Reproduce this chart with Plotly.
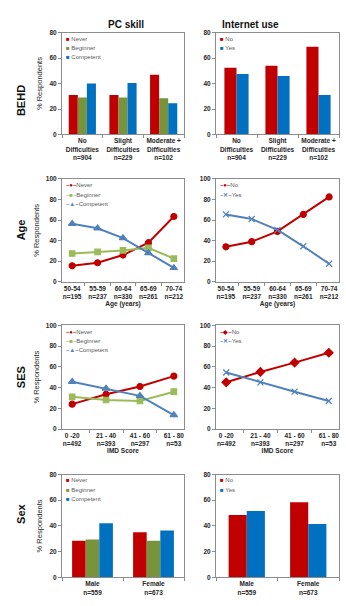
import plotly.graph_objects as go

W, H = 346, 606

# ---------------- data ----------------
behd_cats = ["No<br>Difficulties<br>n=904", "Slight<br>Difficulties<br>n=229", "Moderate +<br>Difficulties<br>n=102"]
behd_never = [31, 31, 47]
behd_beginner = [29, 29, 28.5]
behd_competent = [40, 40.5, 24.5]
behd_no = [52.5, 54, 69]
behd_yes = [47.5, 46, 31]

age_cats = ["50-54<br>n=195", "55-59<br>n=237", "60-64<br>n=330", "65-69<br>n=261", "70-74<br>n=212"]
age_never = [15.5, 18.5, 26, 38, 63.5]
age_beginner = [27.5, 29, 30.5, 33, 22.5]
age_competent = [56.5, 52, 42.5, 28, 13.5]
age_no = [34, 39, 49, 65.5, 82.5]
age_yes = [65.5, 61, 50.5, 34.5, 17.5]

ses_cats = ["0 -20<br>n=492", "21 - 40<br>n=393", "41 - 60<br>n=297", "61 - 80<br>n=53"]
ses_never = [24, 33.5, 41, 51]
ses_beginner = [31, 28, 27, 36]
ses_competent = [45.5, 39, 32, 13.5]
ses_no = [45, 55, 64, 73.5]
ses_yes = [54.5, 45, 36, 27]

sex_cats = ["Male<br>n=559", "Female<br>n=673"]
sex_never = [28.5, 35]
sex_beginner = [29.5, 28.5]
sex_competent = [42, 36.5]
sex_no = [48.5, 58.5]
sex_yes = [51.5, 41.5]

col_titles = ["PC skill", "Internet use"]
row_titles = ["BEHD", "Age", "SES", "Sex"]

# ---------------- styling ----------------
FONT = "Liberation Sans, Arial, sans-serif"
RED_BAR, GREEN_BAR, BLUE_BAR = "#C00000", "#77933C", "#0070C0"
RED_LINE, GREEN_LINE, BLUE_LINE = "#C00000", "#9BBB59", "#4F81BD"
AXCOL = "#8c8c8c"
TXT = "#262626"
LEGTXT = "#595959"

col_px = [(62, 184), (216, 339)]
row_px = [(29, 132), (177, 281), (325, 430), (476, 580)]

fig = go.Figure()
annotations = []


def ax_id(r, c):
    return r * 2 + c + 1


def add_bars(r, c, cats, names, series, colors):
    i = ax_id(r, c)
    n = len(series)
    w = 0.223 if n == 3 else 0.295
    start = -w * n / 2
    for k, (name, vals, color) in enumerate(zip(names, series, colors)):
        fig.add_trace(go.Bar(x=cats, y=vals, name=name, width=w, offset=start + k * w,
                             marker=dict(color=color, line=dict(width=0)),
                             xaxis=f"x{i}", yaxis=f"y{i}", showlegend=False))
    x0 = col_px[c][0]
    y0 = row_px[r][0]
    for k, (name, color) in enumerate(zip(names, colors)):
        yy = y0 + 6 + k * 9.2
        annotations.append(dict(text=f"<span style='color:{color}'>■</span> {name}",
                                x=(x0 + 2) / W, y=1 - yy / H, xref="paper", yref="paper",
                                xanchor="left", yanchor="middle", showarrow=False,
                                font=dict(size=6, color=LEGTXT, family=FONT)))


def add_lines(r, c, cats, names, series, colors, symbols, glyphs, sizes):
    i = ax_id(r, c)
    for name, vals, color, sym, sz in zip(names, series, colors, symbols, sizes):
        fig.add_trace(go.Scatter(x=cats, y=vals, name=name, mode="lines+markers",
                                 line=dict(color=color, width=2),
                                 marker=dict(symbol=sym, size=sz, color=color,
                                             line=dict(color=color, width=1.2)),
                                 xaxis=f"x{i}", yaxis=f"y{i}", showlegend=False))
    x0 = col_px[c][0]
    y0 = row_px[r][0]
    for k, (name, color, g) in enumerate(zip(names, colors, glyphs)):
        yy = y0 + 6.5 + k * 9.4
        annotations.append(dict(text=f"<span style='color:{color}'><b>–{g}–</b></span>{name}",
                                x=(x0 + 2) / W, y=1 - yy / H, xref="paper", yref="paper",
                                xanchor="left", yanchor="middle", showarrow=False,
                                font=dict(size=6, color=LEGTXT, family=FONT)))


pc_names = ["Never", "Beginner", "Competent"]
net_names = ["No", "Yes"]

# row 0 BEHD
add_bars(0, 0, behd_cats, pc_names, [behd_never, behd_beginner, behd_competent], [RED_BAR, GREEN_BAR, BLUE_BAR])
add_bars(0, 1, behd_cats, net_names, [behd_no, behd_yes], [RED_BAR, BLUE_BAR])
# row 1 Age
add_lines(1, 0, age_cats, pc_names, [age_never, age_beginner, age_competent],
          [RED_LINE, GREEN_LINE, BLUE_LINE], ["circle", "square", "triangle-up"], ["●", "■", "▲"], [6, 5.5, 6.5])
add_lines(1, 1, age_cats, net_names, [age_no, age_yes],
          [RED_LINE, BLUE_LINE], ["circle", "x-thin-open"], ["●", "✕"], [6, 6])
# row 2 SES
add_lines(2, 0, ses_cats, pc_names, [ses_never, ses_beginner, ses_competent],
          [RED_LINE, GREEN_LINE, BLUE_LINE], ["circle", "square", "triangle-up"], ["●", "■", "▲"], [6, 5.5, 6.5])
add_lines(2, 1, ses_cats, net_names, [ses_no, ses_yes],
          [RED_LINE, BLUE_LINE], ["diamond", "x-thin-open"], ["◆", "✕"], [6.5, 6])
# row 3 Sex
add_bars(3, 0, sex_cats, pc_names, [sex_never, sex_beginner, sex_competent], [RED_BAR, GREEN_BAR, BLUE_BAR])
add_bars(3, 1, sex_cats, net_names, [sex_no, sex_yes], [RED_BAR, BLUE_BAR])

yranges = [80, 100, 100, 80]
xtitles = [None, "Age (years)", "IMD Score", None]

layout = dict(width=W, height=H, margin=dict(l=0, r=0, t=0, b=0),
              paper_bgcolor="white", plot_bgcolor="white",
              font=dict(family=FONT, color=TXT, size=7),
              barmode="overlay", showlegend=False)

for r in range(4):
    y0, y1 = row_px[r]
    for c in range(2):
        i = ax_id(r, c)
        x0, x1 = col_px[c]
        xa = dict(domain=[x0 / W, x1 / W], anchor=f"y{i}", type="category",
                  showline=True, linecolor=AXCOL, linewidth=1, mirror=True,
                  ticks="outside", ticklen=3, tickcolor=AXCOL, tickson="boundaries",
                  tickangle=0, showgrid=False, zeroline=False, fixedrange=True,
                  tickfont=dict(size=6.5, color=TXT, weight="bold"))
        if xtitles[r]:
            xa["title"] = dict(text=xtitles[r], font=dict(size=6.5, color=TXT, weight="bold"), standoff=1)
        ya = dict(domain=[1 - y1 / H, 1 - y0 / H], anchor=f"x{i}", range=[0, yranges[r]],
                  dtick=20, showline=True, linecolor=AXCOL, linewidth=1, mirror=True,
                  ticks="outside", ticklen=3, tickcolor=AXCOL, showgrid=False, zeroline=False,
                  fixedrange=True, tickfont=dict(size=6.5, color=TXT, weight="bold"))
        if c == 0:
            ya["title"] = dict(text="% Respondents", font=dict(size=7.5, color=TXT), standoff=5)
        layout[f"xaxis{i}" if i > 1 else "xaxis"] = xa
        layout[f"yaxis{i}" if i > 1 else "yaxis"] = ya
    annotations.append(dict(text=f"<b>{row_titles[r]}</b>", x=13 / W, y=1 - ((y0 + y1) / 2) / H,
                            xref="paper", yref="paper", showarrow=False, textangle=-90,
                            font=dict(size=11, color="#111111", family=FONT)))
for c in range(2):
    x0, x1 = col_px[c]
    annotations.append(dict(text=f"<b>{col_titles[c]}</b>", x=((x0 + x1) / 2 + 3) / W, y=1 - 13 / H,
                            xref="paper", yref="paper", showarrow=False,
                            font=dict(size=10, color="#111111", family=FONT)))
layout["annotations"] = annotations

fig.update_layout(**layout)
fig.write_html("out.html")
